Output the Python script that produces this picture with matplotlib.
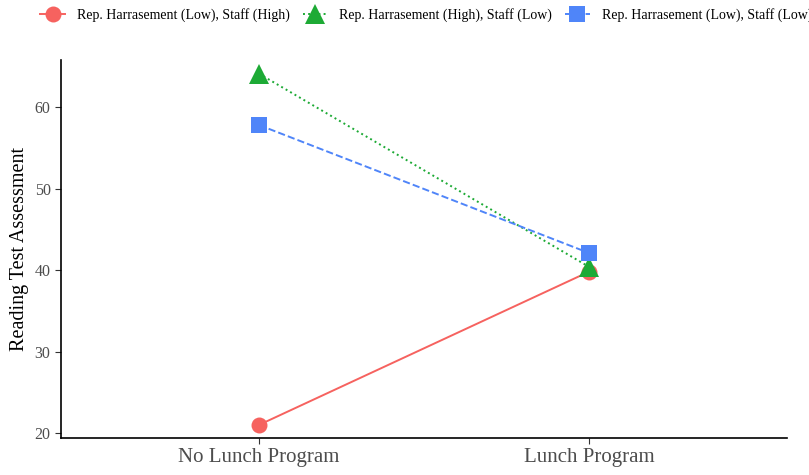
import matplotlib
matplotlib.use("Agg")
import matplotlib.pyplot as plt

# ---- data ----
conditions = ["No Lunch Program", "Lunch Program"]
groups = ["Rep. Harrasement (Low), Staff (High)",
          "Rep. Harrasement (High), Staff (Low)",
          "Rep. Harrasement (Low), Staff (Low)"]
low_high = [21.0, 39.8]
high_low = [64.1, 40.4]
low_low = [57.8, 42.1]

series = [low_high, high_low, low_low]
colors = ["#F6625F", "#1DAA35", "#4F85F9"]
styles = ["-", ":", "--"]
markers = ["o", "^", "s"]
msizes = [11.5, 14, 11]

plt.rcParams["font.family"] = ["Liberation Serif", "DejaVu Serif"]

fig = plt.figure(figsize=(8.09, 4.75), dpi=100)
ax = fig.add_axes([0.0754, 0.078, 0.8974, 0.796])

xs = [1, 2]
handles = []
for vals, c, ls, m, ms, lab in zip(series, colors, styles, markers, msizes, groups):
    h, = ax.plot(xs, vals, color=c, linestyle=ls, linewidth=1.4,
                 marker=m, markersize=ms, markeredgewidth=0, label=lab)
    handles.append(h)

# discrete axis with ggplot-like 0.6 expansion
ax.set_xlim(0.4, 2.6)
ax.set_ylim(19.4, 65.8)
ax.set_xticks(xs)
ax.set_xticklabels(conditions)
ax.set_yticks([20, 30, 40, 50, 60])
ax.tick_params(axis="x", labelsize=15, labelcolor="#4D4D4D", length=4, color="#333333")
ax.tick_params(axis="y", labelsize=11.5, labelcolor="#4D4D4D", length=4, color="#333333")
ax.set_ylabel("Reading Test Assessment", fontsize=14.5)
for side in ("top", "right"):
    ax.spines[side].set_visible(False)
for side in ("left", "bottom"):
    ax.spines[side].set_linewidth(1.2)

# legend runs off the right edge, as in the reference
fig.legend(handles=handles, loc="center left", bbox_to_anchor=(0.043, 0.968), ncol=3,
           frameon=False, fontsize=10, handlelength=1.8, columnspacing=0.9,
           handletextpad=0.85, borderpad=0.4, borderaxespad=0)

fig.savefig("out.png", dpi=100)
